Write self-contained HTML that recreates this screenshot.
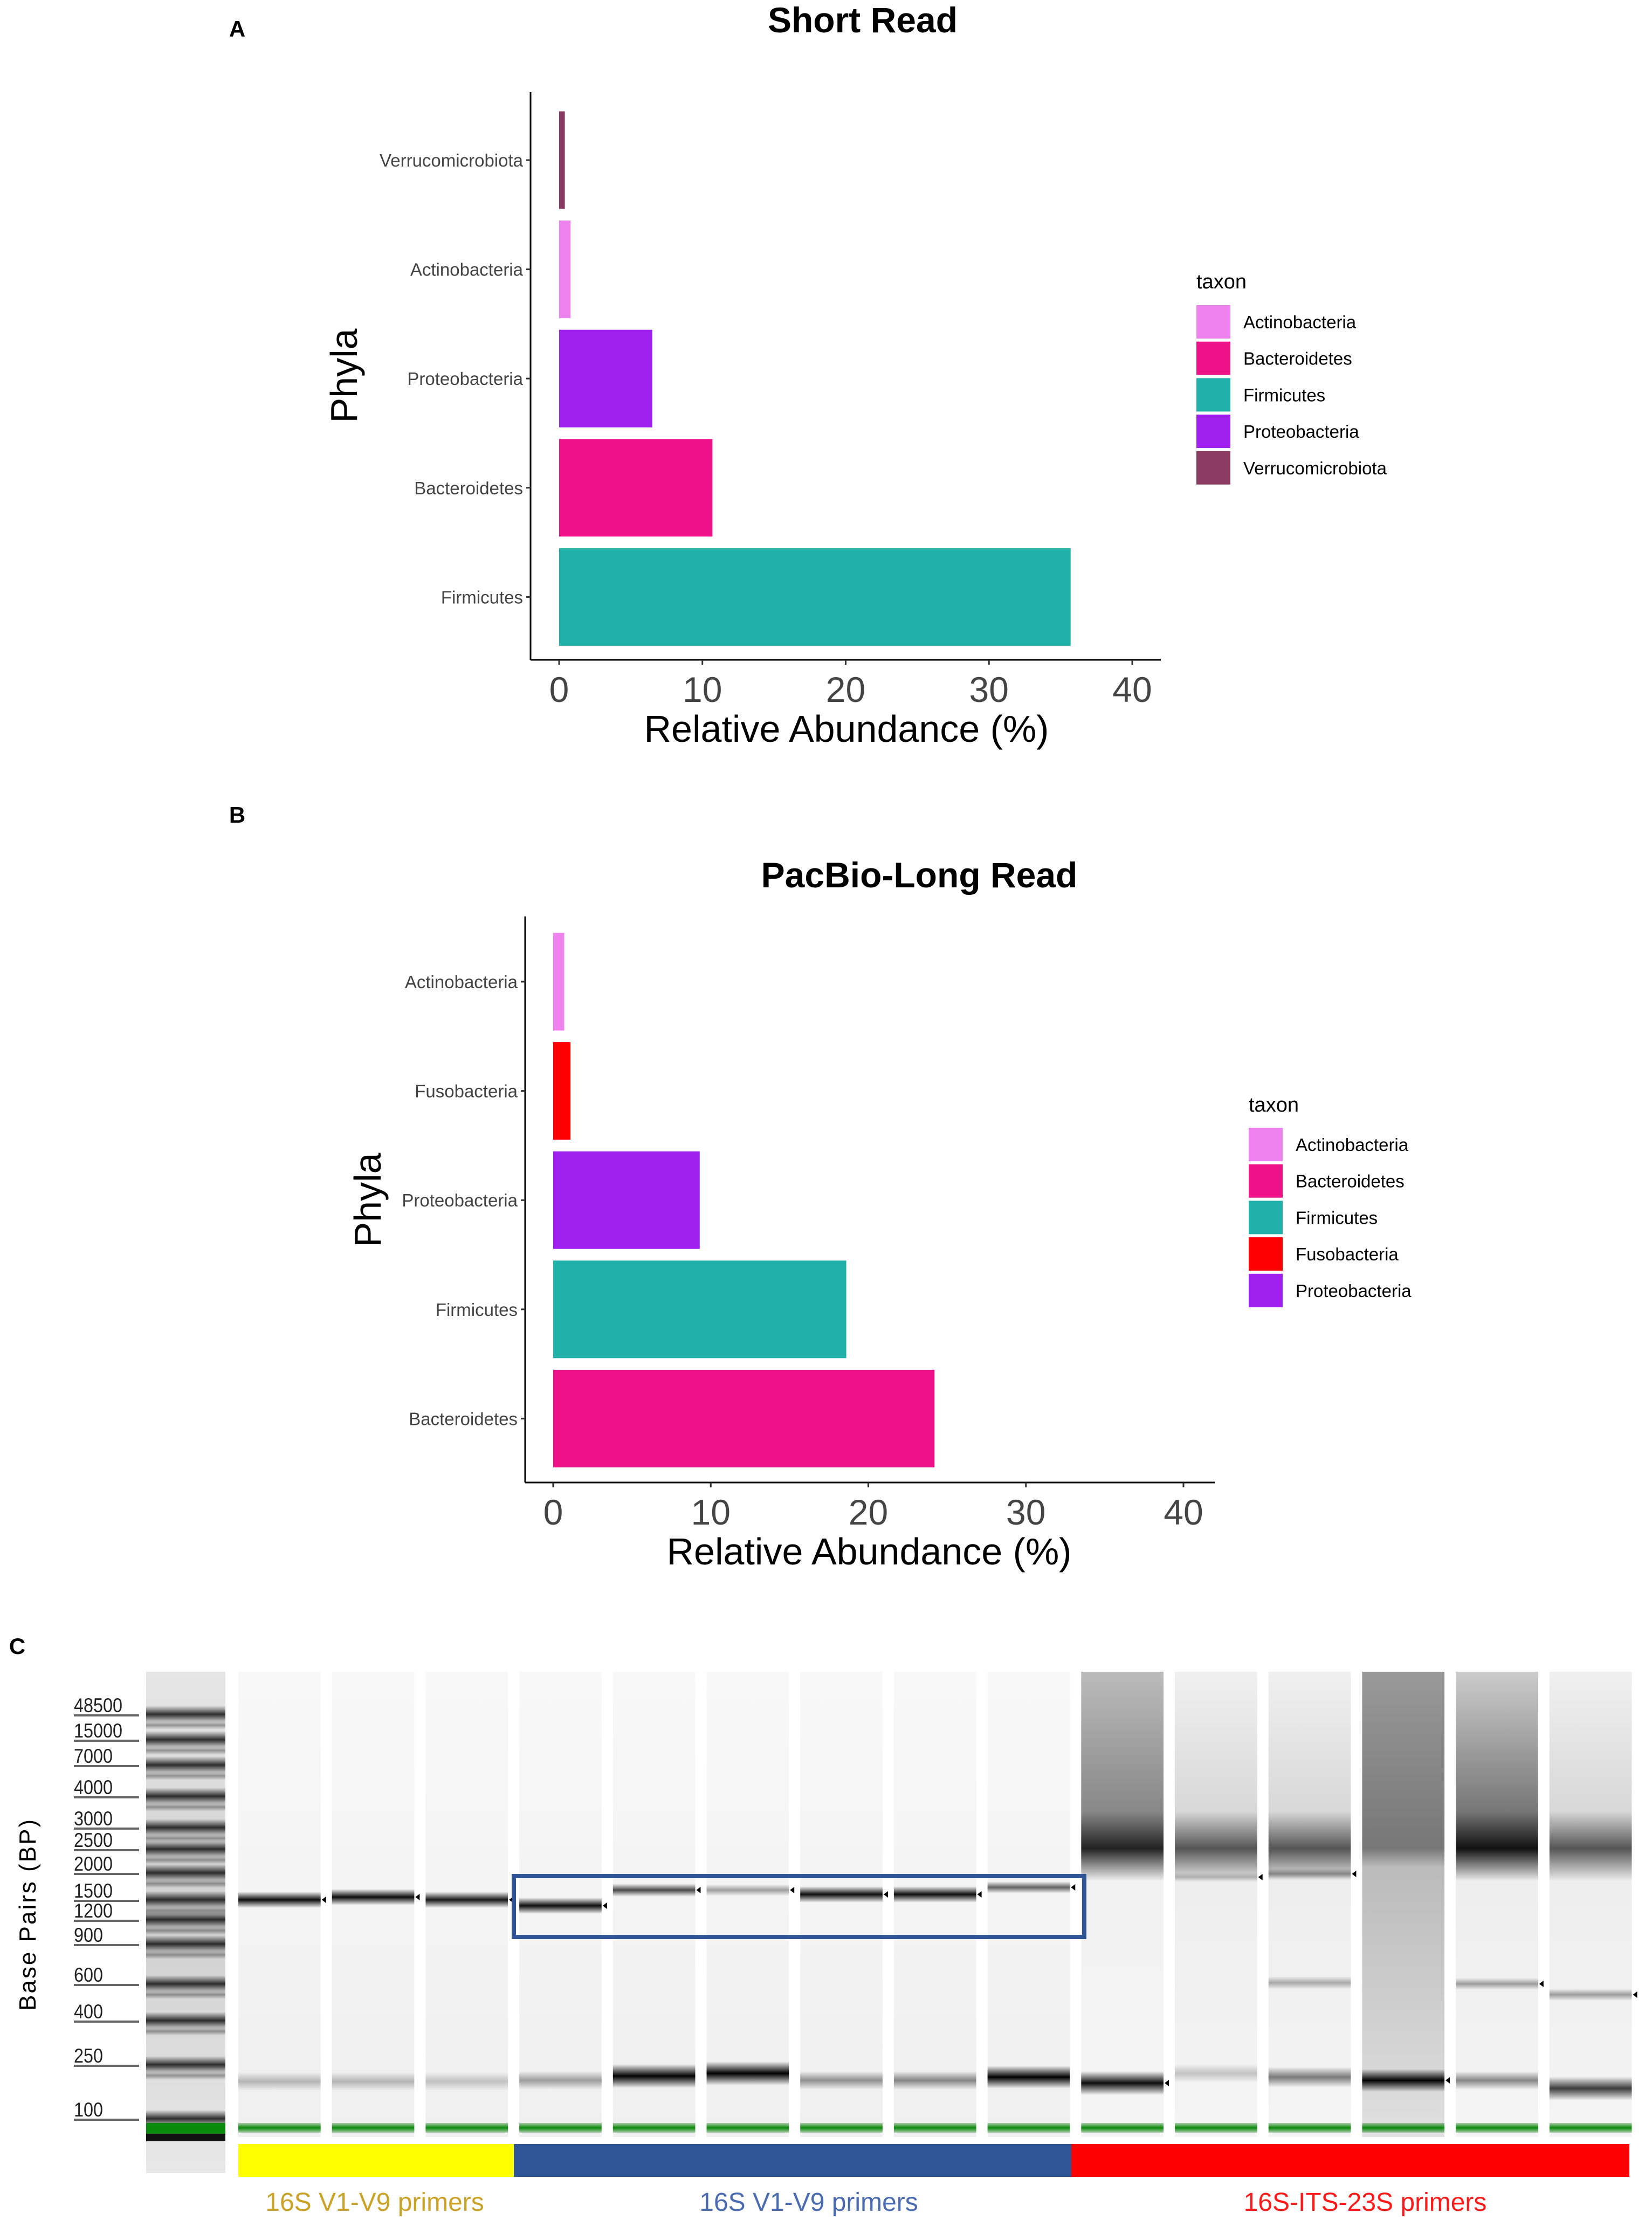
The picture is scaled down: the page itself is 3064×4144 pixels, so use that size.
<!DOCTYPE html>
<html><head><meta charset="utf-8"><style>
html,body{margin:0;padding:0;background:#fff}
svg{display:block}
text{font-family:"Liberation Sans",sans-serif}
</style></head><body>
<svg id="fig" width="3064" height="4144" viewBox="0 0 3064 4144" xmlns="http://www.w3.org/2000/svg">
<defs>
<linearGradient id="bandG" x1="0" y1="0" x2="0" y2="1"><stop offset="0" stop-color="#000" stop-opacity="0"/><stop offset="0.5" stop-color="#000" stop-opacity="1"/><stop offset="1" stop-color="#000" stop-opacity="0"/></linearGradient>
<linearGradient id="greenG" x1="0" y1="0" x2="0" y2="1"><stop offset="0" stop-color="#0a7a0a" stop-opacity="0.3"/><stop offset="0.5" stop-color="#0a8a0a" stop-opacity="1"/><stop offset="1" stop-color="#0a7a0a" stop-opacity="0.3"/></linearGradient>
<linearGradient id="smearA" x1="0" y1="0" x2="0" y2="1"><stop offset="0" stop-color="#bbb"/><stop offset="0.3" stop-color="#888"/><stop offset="0.38" stop-color="#222"/><stop offset="0.45" stop-color="#f2f2f2"/><stop offset="1" stop-color="#f4f4f4"/></linearGradient>
<linearGradient id="smearB" x1="0" y1="0" x2="0" y2="1"><stop offset="0" stop-color="#f0f0f0"/><stop offset="0.3" stop-color="#d8d8d8"/><stop offset="0.38" stop-color="#555"/><stop offset="0.45" stop-color="#eee"/><stop offset="1" stop-color="#f4f4f4"/></linearGradient>
<linearGradient id="smearC" x1="0" y1="0" x2="0" y2="1"><stop offset="0" stop-color="#999"/><stop offset="0.38" stop-color="#777"/><stop offset="0.42" stop-color="#bbb"/><stop offset="1" stop-color="#e0e0e0"/></linearGradient>
<linearGradient id="smearD" x1="0" y1="0" x2="0" y2="1"><stop offset="0" stop-color="#ccc"/><stop offset="0.3" stop-color="#777"/><stop offset="0.38" stop-color="#111"/><stop offset="0.45" stop-color="#eee"/><stop offset="1" stop-color="#f4f4f4"/></linearGradient>
<linearGradient id="smearF" x1="0" y1="0" x2="0" y2="1"><stop offset="0" stop-color="#f8f8f8"/><stop offset="1" stop-color="#efefef"/></linearGradient>
<linearGradient id="ladG" x1="0" y1="0" x2="0" y2="1"><stop offset="0" stop-color="#e6e6e6"/><stop offset="0.5" stop-color="#cfcfcf"/><stop offset="1" stop-color="#e8e8e8"/></linearGradient>
</defs>
<g id="panelA"></g>
<g id="panelB" transform="translate(0,10)"></g>
<g id="panelC" transform="translate(0,16)"></g>
</svg>
<script>
// ---- Panel A data ----
const catsA = ["Verrucomicrobiota","Actinobacteria","Proteobacteria","Bacteroidetes","Firmicutes"];
const valsA = [0.4, 0.8, 6.5, 10.7, 35.7];
// ---- Panel B data ----
const catsB = ["Actinobacteria","Fusobacteria","Proteobacteria","Firmicutes","Bacteroidetes"];
const valsB = [0.7, 1.1, 9.3, 18.6, 24.2];
const xTicks = [0, 10, 20, 30, 40];
const legendA = ["Actinobacteria","Bacteroidetes","Firmicutes","Proteobacteria","Verrucomicrobiota"];
const legendB = ["Actinobacteria","Bacteroidetes","Firmicutes","Fusobacteria","Proteobacteria"];
const colorOf = {Actinobacteria:"#ee82ee",Bacteroidetes:"#ee1289",Firmicutes:"#20b2aa",Proteobacteria:"#a020f0",Verrucomicrobiota:"#8b3a62",Fusobacteria:"#ff0000"};
// ---- Panel C data ----
const ladderLabels = ["48500","15000","7000","4000","3000","2500","2000","1500","1200","900","600","400","250","100"];
const ladderY = [3164,3211,3258,3316,3374,3414,3458,3508,3545,3590,3664,3732,3814,3914];
// per-lane bands: [y, opacity, thickness]
const laneBands = [
 [[3508,0.95,30],[3845,0.25,34]],
 [[3503,0.95,30],[3845,0.25,34]],
 [[3508,0.9,30],[3845,0.2,34]],
 [[3519,0.95,30],[3843,0.35,34]],
 [[3490,0.7,24],[3835,1,44]],
 [[3490,0.35,22],[3830,1,44]],
 [[3498,0.95,30],[3843,0.4,34]],
 [[3498,0.95,30],[3843,0.45,34]],
 [[3485,0.6,22],[3837,1,42]],
 [[3848,0.95,44]],
 [[3466,0.2,18],[3830,0.2,34]],
 [[3460,0.35,20],[3662,0.3,24],[3837,0.5,38]],
 [[3843,1,42]],
 [[3664,0.35,22],[3843,0.45,34]],
 [[3684,0.35,22],[3858,0.75,44]]
];
const laneSmear = [null,null,null,null,null,null,null,null,null,"smearA","smearB","smearB","smearC","smearD","smearB"];

const NS="http://www.w3.org/2000/svg";
function el(parent, tag, attrs, text){
  const e=document.createElementNS(NS,tag);
  for(const k in attrs) e.setAttribute(k,attrs[k]);
  if(text!==undefined) e.textContent=text;
  parent.appendChild(e); return e;
}

function drawBarPanel(g, cfg){
  const sx = v => cfg.x0 + v*(cfg.x40-cfg.x0)/40;
  let t=el(g,"text",{x:cfg.titleX,y:cfg.titleY,"font-size":66,"font-weight":"bold","text-anchor":"middle",fill:"#000"},cfg.title);
  
  
  t=el(g,"text",{x:440,y:cfg.letterY,"font-size":42,"font-weight":"bold","text-anchor":"middle"},cfg.letter);
  
  
  let a=el(g,"line",{x1:cfg.axX,y1:cfg.axTop,x2:cfg.axX,y2:cfg.axBot,stroke:"#000","stroke-width":3});
  
  
  a=el(g,"line",{x1:cfg.axX,y1:cfg.axBot,x2:cfg.axRight,y2:cfg.axBot,stroke:"#000","stroke-width":3});
  
  
  cfg.cats.forEach((c,i)=>{
    const cy=cfg.cy0+i*cfg.step;
    const r=el(g,"rect",{x:sx(0),y:cy-cfg.bh/2,width:sx(cfg.vals[i])-sx(0),height:cfg.bh,fill:colorOf[c]});
    
    
    el(g,"line",{x1:cfg.axX-8,y1:cy,x2:cfg.axX,y2:cy,stroke:"#333","stroke-width":3});
    const l=el(g,"text",{x:cfg.axX-14,y:cy+12,"font-size":33,"text-anchor":"end",fill:"#444"},c);
    
    
  });
  xTicks.forEach(v=>{
    el(g,"line",{x1:sx(v),y1:cfg.axBot,x2:sx(v),y2:cfg.axBot+9,stroke:"#333","stroke-width":3});
    const l=el(g,"text",{x:sx(v),y:cfg.axBot+78,"font-size":66,"text-anchor":"middle",fill:"#444"},String(v));
    
    
  });
  t=el(g,"text",{x:cfg.xtX,y:cfg.axBot+152,"font-size":70,"text-anchor":"middle",fill:"#000"},"Relative Abundance (%)");
  
  
  t=el(g,"text",{x:0,y:0,"font-size":70,"text-anchor":"middle",transform:`translate(${cfg.phX},${cfg.phY}) rotate(-90)`},"Phyla");
  
  
  const lg=el(g,"g",{});
  
  
  el(lg,"text",{x:cfg.lgX,y:cfg.lgY,"font-size":38,fill:"#000"},"taxon");
  cfg.legend.forEach((c,i)=>{
    const cy=cfg.lgY0+i*67.7;
    const k=el(lg,"rect",{x:cfg.lgX,y:cy-31,width:63,height:62,fill:colorOf[c]});
    
    
    const lt=el(lg,"text",{x:cfg.lgX+87,y:cy+12,"font-size":33,fill:"#000"},c);
    
    
  });
}

drawBarPanel(document.getElementById("panelA"),{title:"Short Read",titleX:1600,titleY:60,letter:"A",letterY:68,
  x0:1037,x40:2100,axX:984,axTop:171,axBot:1224,axRight:2153,cats:catsA,vals:valsA,cy0:297,step:202.6,bh:181,
  xtX:1570,phX:662,phY:697,legend:legendA,lgX:2219,lgY:535,lgY0:597});
drawBarPanel(document.getElementById("panelB"),{title:"PacBio-Long Read",titleX:1705,titleY:1636,letter:"B",letterY:1516,
  x0:1026,x40:2195,axX:974,axTop:1690,axBot:2740,axRight:2253,cats:catsB,vals:valsB,cy0:1811,step:202.6,bh:181,
  xtX:1612,phX:706,phY:2216,legend:legendB,lgX:2316,lgY:2052,lgY0:2113});

// ---- Panel C ----
(function(){
  const g=document.getElementById("panelC");
  let t=el(g,"text",{x:32,y:3052,"font-size":42,"font-weight":"bold","text-anchor":"middle"},"C");
  
  
  t=el(g,"text",{x:0,y:0,"font-size":44,"text-anchor":"middle","letter-spacing":"3",transform:"translate(66,3535) rotate(-90)"},"Base Pairs (BP)");
  
  
  const lad=el(g,"g",{});
  
  
  el(lad,"rect",{x:271,y:3085,width:147,height:930,fill:"url(#ladG)"});
  ladderY.forEach((y,i)=>{
    el(lad,"rect",{x:271,y:y-16,width:147,height:32,fill:"url(#bandG)",opacity:0.8});
    el(lad,"rect",{x:271,y:y+12,width:147,height:16,fill:"url(#bandG)",opacity:0.35});
    const l=el(g,"text",{x:137,y:y-4,"font-size":37,fill:"#222",textLength:ladderLabels[i].length*18,lengthAdjust:"spacingAndGlyphs"},ladderLabels[i]);
    
    
    el(g,"line",{x1:137,y1:y+2,x2:258,y2:y+2,stroke:"#666","stroke-width":4});
  });
  el(lad,"rect",{x:271,y:3922,width:147,height:20,fill:"#0a8a0a"});
  el(lad,"rect",{x:271,y:3942,width:147,height:14,fill:"#111"});
  laneBands.forEach((bands,i)=>{
    const x=442+i*173.7, w=152.7;
    const lg=el(g,"g",{});
    
    
    el(lg,"rect",{x:x,y:3085,width:w,height:863,fill:laneSmear[i]?`url(#${laneSmear[i]})`:"url(#smearF)"});
    bands.forEach(b=>{
      const r=el(lg,"rect",{x:x,y:b[0]-b[2]/2,width:w,height:b[2],fill:"url(#bandG)",opacity:b[1]});
      
      
    });
    el(lg,"rect",{x:x,y:3922,width:w,height:18,fill:"url(#greenG)"});
    el(lg,"path",{d:`M${x+w+10} ${bands[0][0]-6} l-8 6 l8 6 z`,fill:"#000"});
  });
  const box=el(g,"rect",{x:953,y:3464,width:1058,height:113,fill:"none",stroke:"#2f5597","stroke-width":8});
  
  
  const bars=[[442,953,"#ffff00","16S V1-V9 primers","#c9a227",695],[953,1987,"#2f5597","16S V1-V9 primers","#4a6bb0",1500],[1987,3022,"#ff0000","16S-ITS-23S primers","#ff1a1a",2532]];
  bars.forEach(b=>{
    const r=el(g,"rect",{x:b[0],y:3961,width:b[1]-b[0],height:61,fill:b[2]});
    
    
    const l=el(g,"text",{x:b[5],y:4085,"font-size":48,"text-anchor":"middle",fill:b[4]},b[3]);
    
    
  });
})();
</script>
</body></html>
